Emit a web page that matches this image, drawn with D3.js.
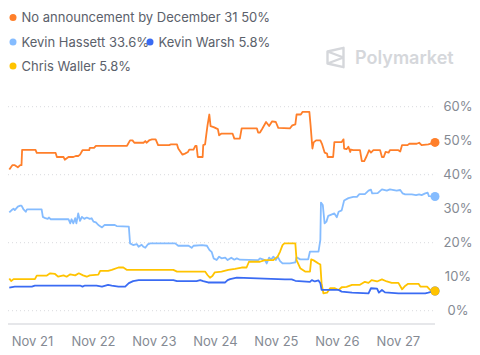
<!DOCTYPE html>
<html><head><meta charset="utf-8">
<script src="https://cdn.jsdelivr.net/npm/d3@7"></script>
<style>
body{margin:0;background:#fff;}
svg{display:block;font-family:Inter,"Open Sans",sans-serif;}
</style></head>
<body><svg id="c" width="480" height="355"></svg>
<script>
// Times are day-of-month (November 2025, fractional days); values in %
const noAnnouncement = [
[20.62,41.5],[20.67,42.8],[20.71,42.8],[20.76,42.2],[20.80,42.8],[20.82,42.8],[20.83,47.3],[21.05,47.3],[21.07,46.4],[21.38,46.4],[21.40,45.2],[21.51,45.2],[21.53,44.4],[21.59,45.2],[21.67,45.2],[21.71,45.5],[21.75,45.5],[21.78,45.9],[21.82,47.2],[21.93,47.2],[21.94,47.9],[22.01,47.9],[22.04,48.5],[22.55,48.5],[22.60,50.1],[22.64,50.1],[22.67,49.4],[22.82,49.4],[22.85,49.9],[22.87,49.4],[22.92,50.2],[22.96,50.4],[23.02,50.4],[23.06,48.7],[23.24,48.7],[23.27,48.9],[23.37,48.9],[23.39,47.7],[23.46,45.9],[23.50,46.2],[23.55,46.7],[23.57,47.4],[23.64,47.4],[23.67,48.5],[23.69,48.5],[23.71,45.2],[23.79,45.2],[23.80,48.7],[23.83,48.9],[23.85,51.8],[23.87,54.5],[23.90,57.7],[23.92,54.3],[23.97,54.0],[24.04,53.4],[24.06,51.6],[24.10,52.1],[24.28,52.1],[24.31,50.6],[24.40,50.6],[24.43,53.6],[24.68,53.6],[24.70,52.4],[24.73,52.4],[24.77,53.6],[24.83,55.5],[24.88,54.3],[24.93,55.7],[24.99,55.5],[25.03,53.8],[25.22,53.6],[25.26,54.5],[25.31,54.8],[25.33,57.7],[25.40,57.7],[25.43,58.5],[25.54,58.5],[25.56,54.5],[25.59,47.7],[25.61,49.5],[25.65,50.1],[25.72,50.1],[25.75,48.9],[25.79,46.5],[25.83,46.2],[25.84,45.2],[25.93,45.2],[25.95,49.6],[26.07,49.6],[26.10,50.4],[26.11,47.7],[26.15,47.5],[26.18,48.2],[26.21,46.7],[26.22,47.4],[26.26,47.2],[26.37,47.2],[26.40,44.0],[26.44,44.0],[26.48,45.5],[26.52,47.2],[26.55,46.5],[26.59,47.2],[26.70,47.2],[26.73,45.2],[26.76,45.2],[26.79,46.7],[26.84,46.5],[26.86,47.2],[27.00,47.2],[27.03,46.8],[27.06,48.7],[27.15,48.7],[27.18,49.1],[27.30,49.1],[27.34,49.4],[27.38,48.7],[27.49,48.9],[27.60,49.5]
];
const hassett = [
[20.62,28.9],[20.66,29.6],[20.69,30.0],[20.71,29.6],[20.76,30.6],[20.80,30.9],[20.82,30.9],[20.85,29.9],[20.89,29.1],[20.91,29.8],[21.15,29.8],[21.17,27.6],[21.21,27.2],[21.25,27.0],[21.27,27.4],[21.30,26.9],[21.59,26.9],[21.62,25.7],[21.64,26.9],[21.67,25.7],[21.70,27.2],[21.72,25.7],[21.75,28.6],[21.78,26.4],[21.81,27.6],[21.85,27.0],[21.89,27.4],[21.94,27.0],[21.97,27.2],[22.00,26.2],[22.04,26.0],[22.08,25.2],[22.14,24.5],[22.18,25.2],[22.35,25.2],[22.38,24.9],[22.58,24.7],[22.60,19.8],[22.65,19.3],[22.71,19.6],[22.74,18.8],[22.79,19.4],[22.82,18.8],[22.85,18.5],[22.89,19.5],[22.93,19.8],[23.34,19.8],[23.39,19.1],[23.56,19.1],[23.61,18.5],[23.64,19.1],[23.78,19.3],[23.86,19.1],[23.90,17.9],[23.94,17.2],[23.97,15.4],[24.02,14.9],[24.06,15.9],[24.10,15.4],[24.16,15.6],[24.20,14.9],[24.26,15.6],[24.31,15.0],[24.35,15.4],[24.40,15.0],[24.70,14.9],[24.73,15.4],[24.81,14.9],[24.84,13.9],[24.88,15.6],[24.91,15.0],[24.95,15.9],[24.99,14.9],[25.02,15.9],[25.06,14.6],[25.10,13.9],[25.22,13.9],[25.31,14.2],[25.33,15.7],[25.39,15.1],[25.52,15.1],[25.55,17.4],[25.69,17.4],[25.72,20.8],[25.73,31.8],[25.76,31.1],[25.79,25.7],[25.82,26.2],[25.85,27.9],[25.95,28.6],[25.99,27.5],[26.02,29.1],[26.07,29.5],[26.11,32.4],[26.18,33.1],[26.26,33.5],[26.32,33.5],[26.36,34.3],[26.45,34.3],[26.51,35.3],[26.55,35.6],[26.57,34.5],[26.66,34.6],[26.73,35.7],[26.81,35.3],[26.86,35.7],[26.97,35.3],[27.03,35.5],[27.07,34.5],[27.11,34.2],[27.22,34.2],[27.29,34.0],[27.34,34.2],[27.38,34.0],[27.44,34.5],[27.48,34.7],[27.50,33.7],[27.60,33.6]
];
const warsh = [
[20.62,6.8],[20.71,7.1],[20.99,7.1],[21.04,7.4],[21.78,7.4],[21.82,7.1],[21.86,7.4],[22.05,7.4],[22.14,7.1],[22.24,7.6],[22.30,7.4],[22.41,7.1],[22.52,7.1],[22.58,8.1],[22.65,8.7],[22.74,9.0],[23.31,9.0],[23.37,8.7],[23.69,8.7],[23.75,9.0],[23.80,8.7],[23.88,8.3],[24.16,8.3],[24.20,9.0],[24.24,9.3],[24.35,9.7],[25.14,9.2],[25.25,9.2],[25.31,8.8],[25.55,8.5],[25.58,9.0],[25.63,8.6],[25.69,8.9],[25.72,8.1],[25.74,6.1],[25.79,6.1],[26.02,6.1],[26.07,5.6],[26.24,5.3],[26.51,5.1],[26.55,6.6],[26.65,6.5],[26.68,5.3],[26.73,6.1],[26.78,5.4],[27.00,5.1],[27.44,5.1],[27.49,5.3],[27.60,5.8]
];
const waller = [
[20.62,9.5],[20.65,8.7],[20.69,9.3],[21.04,9.3],[21.07,10.3],[21.23,10.3],[21.29,11.0],[21.37,10.8],[21.42,10.0],[21.51,10.4],[21.56,10.0],[21.62,10.7],[21.70,10.4],[21.76,11.0],[21.83,10.4],[21.89,10.0],[21.94,10.4],[22.08,10.6],[22.11,11.7],[22.24,11.7],[22.30,12.0],[22.41,12.7],[22.49,12.7],[22.55,12.0],[23.31,12.0],[23.37,11.5],[23.83,11.5],[23.87,10.5],[23.91,9.7],[23.95,10.2],[23.99,11.3],[24.10,11.5],[24.21,12.0],[24.32,12.3],[24.43,12.7],[24.51,12.7],[24.55,14.4],[24.73,14.4],[24.81,14.9],[24.95,14.9],[25.02,15.9],[25.06,17.4],[25.10,19.3],[25.13,19.8],[25.31,19.8],[25.33,14.9],[25.39,12.5],[25.47,11.5],[25.55,11.5],[25.57,15.1],[25.61,14.8],[25.69,13.9],[25.72,13.6],[25.74,8.1],[25.77,5.1],[25.83,5.3],[25.88,6.6],[25.96,6.6],[26.02,6.1],[26.07,6.9],[26.15,7.0],[26.24,7.6],[26.37,7.6],[26.45,8.5],[26.51,8.2],[26.56,9.0],[26.65,8.6],[26.73,9.2],[26.81,8.6],[26.89,8.2],[27.00,8.2],[27.06,6.3],[27.11,7.3],[27.16,7.9],[27.33,7.9],[27.36,7.1],[27.47,7.1],[27.52,6.1],[27.60,5.8]
];
const seriesNames = ["No announcement by December 31","Kevin Hassett","Kevin Warsh","Chris Waller"];
const seriesLabels = ["50%","33.6%","5.8%","5.8%"];
const seriesColors = ["#FF7F2A","#85BCFF","#3A6BF3","#FFC300"];
const xTickDays = [21,22,23,24,25,26,27];
const xTickLabels = ["Nov 21","Nov 22","Nov 23","Nov 24","Nov 25","Nov 26","Nov 27"];
const yTicks = [0,10,20,30,40,50,60];
const yGrid = [0,20,40,60];

const toDate = d => new Date(Date.UTC(2025,10,1) + (d-1)*86400000);
const svg = d3.select("#c");
const x = d3.scaleUtc().domain([toDate(20.62), toDate(27.60)]).range([9.3, 435]);
const y = d3.scaleLinear().domain([0,60]).range([310.7,106.7]);

// grid
svg.append("g").selectAll("line").data(yGrid).join("line")
  .attr("x1",8).attr("x2",435).attr("y1",d=>y(d)).attr("y2",d=>y(d))
  .attr("stroke","#d9dbde").attr("stroke-width",1).attr("stroke-dasharray","1 3");
// bottom axis line
svg.append("line").attr("x1",8).attr("x2",435).attr("y1",324).attr("y2",324)
  .attr("stroke","#e6e7ea").attr("stroke-width",2);

// y labels
svg.append("g").selectAll("text").data(yTicks).join("text")
  .attr("x",458).attr("y",d=>y(d)+4.5).attr("text-anchor","middle")
  .attr("font-size",13).attr("fill","#858a93").text(d=>d+"%");
// x labels
svg.append("g").selectAll("text").data(xTickDays).join("text")
  .attr("x",d=>x(toDate(d))).attr("y",346).attr("text-anchor","middle")
  .attr("font-size",13).attr("fill","#858a93").text((d,i)=>xTickLabels[i]);

// lines
const line = d3.line().x(d=>x(toDate(d[0]))).y(d=>y(d[1]));
const allSeries = [noAnnouncement, hassett, warsh, waller];
const drawOrder = [0,1,3,2];
drawOrder.forEach(i=>{
  svg.append("path").datum(allSeries[i]).attr("d",line)
    .attr("fill","none").attr("stroke",seriesColors[i]).attr("stroke-width",1.8)
    .attr("stroke-linejoin","round");
});
[0,1,2,3].forEach(i=>{
  const last = allSeries[i][allSeries[i].length-1];
  svg.append("circle").attr("cx",x(toDate(last[0]))).attr("cy",y(last[1])).attr("r",4.5)
    .attr("fill",seriesColors[i]);
});

// legend
const legendPos = [[13,17.5],[13,42],[150,42],[13,66]];
seriesNames.forEach((n,i)=>{
  const [lx,ly] = legendPos[i];
  svg.append("circle").attr("cx",lx).attr("cy",ly).attr("r",3.5).attr("fill",seriesColors[i]);
  svg.append("text").attr("x",lx+8.5).attr("y",ly+4.7).attr("font-size",13).attr("fill","#5b616b")
    .text(n+" "+seriesLabels[i]);
});

// watermark
const wm = svg.append("g").attr("transform","translate(326,47)");
wm.append("path").attr("d","M1.5,4.5 L17.5,0.8 L17.5,20.2 L1.5,16.5 Z M1.5,4.5 L17.5,10.5 L1.5,16.5")
  .attr("fill","none").attr("stroke","#d5d7db").attr("stroke-width",2.4).attr("stroke-linejoin","round");
svg.append("text").attr("x",355).attr("y",64).attr("font-size",18).attr("font-weight",600)
  .attr("fill","#d5d7db").text("Polymarket");
</script></body></html>
